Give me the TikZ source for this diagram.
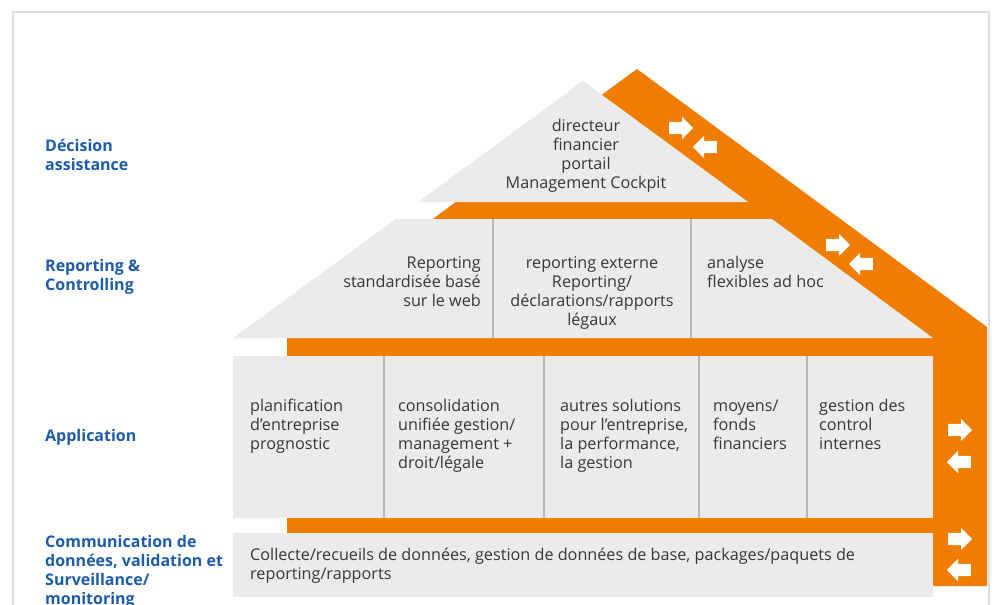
\documentclass[tikz,border=0pt]{standalone}
\usepackage{fontspec}
\setmainfont{Open Sans}
\usetikzlibrary{shapes.arrows}
\definecolor{houseorange}{RGB}{240,125,0}
\definecolor{panelgray}{RGB}{235,235,235}
\definecolor{labelblue}{RGB}{28,92,170}
\definecolor{textgray}{RGB}{55,55,55}
\tikzset{
	% the house
	roof/.style={fill=houseorange},
	panel/.style={fill=panelgray},
	divider/.style={draw=black!28,line width=1.2pt},
	% text styles (anchored on the baseline of the last line)
	boxtext/.style={text=textgray,inner sep=0pt,font=\fontsize{16.2}{19}\selectfont},
	rowlabel/.style={text=labelblue,inner sep=0pt,align=left,anchor=base west,font=\fontsize{16}{19}\selectfont\bfseries},
	% white block arrows
	warrow/.style={single arrow,fill=white,inner xsep=0pt,inner ysep=6pt,minimum height=24pt,single arrow head extend=5pt,anchor=tail},
	backarrow/.style={warrow,shape border rotate=180},
}

\begin{document}
\begin{tikzpicture}[x=1pt,y=-1pt]
\useasboundingbox (0,0) rectangle (994,605);
\fill[white] (0,0) rectangle (994,605);
% the frame
\draw[black!12,line width=2pt] (13,12) rectangle (989,640);
% orange band behind the house
\fill[roof] (287,586) -- (287,326) -- (637,69) -- (987,327) -- (987,586) -- cycle;
% the gray levels
\fill[panel] (418,202) -- (583,81) -- (748,202) -- cycle;
\fill[panel] (233,338) -- (396,219) -- (772,219) -- (933,338) -- cycle;
\fill[panel] (233,356) rectangle (933,518);
\fill[panel] (233,533) rectangle (933,597);
% the dividers
\foreach \x in {493,691}
  \draw[divider] (\x,219) -- (\x,338);
\foreach \x in {384,544,699,807}
  \draw[divider] (\x,356) -- (\x,518);
% top level
\node[boxtext,align=center,anchor=base] (cockpit) at (586,188) {directeur\\financier\\portail\\Management Cockpit};
% reporting level
\node[boxtext,align=right,anchor=base east] (standard) at (481,306) {Reporting\\standardisée basé\\sur le web};
\node[boxtext,align=center,anchor=base] (externe) at (592,325) {reporting externe\\Reporting/\\déclarations/rapports\\légaux};
\node[boxtext,align=left,anchor=base west] (adhoc) at (707,287) {analyse\\flexibles ad hoc};
% application level
\node[boxtext,align=left,anchor=base west] (planif) at (250,449) {planification\\d’entreprise\\prognostic};
\node[boxtext,align=left,anchor=base west] (consol) at (398,468) {consolidation\\unifiée gestion/\\management +\\droit/légale};
\node[boxtext,align=left,anchor=base west] (autres) at (560,468) {autres solutions\\pour l’entreprise,\\la performance,\\la gestion};
\node[boxtext,align=left,anchor=base west] (moyens) at (713,449) {moyens/\\fonds\\financiers};
\node[boxtext,align=left,anchor=base west] (control) at (819,449) {gestion des\\control\\internes};
% data level
\node[boxtext,align=left,anchor=base west] (collecte) at (250,579) {Collecte/recueils de données, gestion de données de base, packages/paquets de\\reporting/rapports};
% the row labels
\node[rowlabel] (decision) at (45,170) {Décision\\assistance};
\node[rowlabel] (reporting) at (45,290) {Reporting \&\\Controlling};
\node[rowlabel] (application) at (45,441) {Application};
\node[rowlabel] (communication) at (45,604) {Communication de\\données, validation et\\Surveillance/\\monitoring};
% arrows on the band
\node[warrow] (in1) at (669,128) {};
\node[backarrow] (out1) at (717,147) {};
\node[warrow] (in2) at (826,245) {};
\node[backarrow] (out2) at (873,264) {};
\node[warrow] (in3) at (948,430) {};
\node[backarrow] (out3) at (971,462) {};
\node[warrow] (in4) at (948,539) {};
\node[backarrow] (out4) at (971,570) {};
\end{tikzpicture}
\end{document}
